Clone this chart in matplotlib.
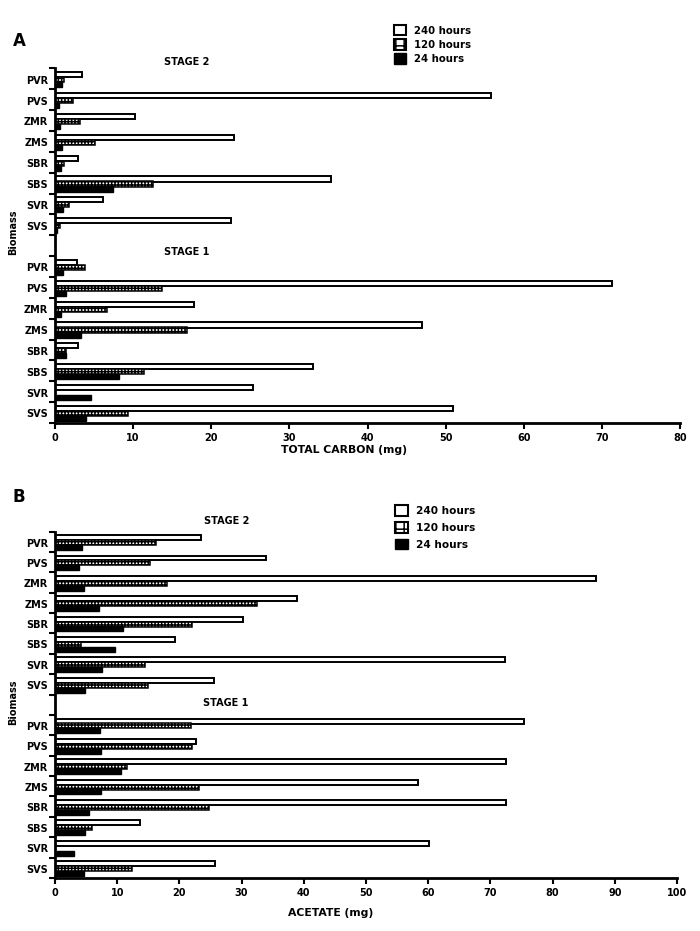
import matplotlib
matplotlib.use("Agg")
import matplotlib.pyplot as plt
from matplotlib.patches import Patch
import numpy as np

plt.rcParams['font.family'] = ['DejaVu Sans']
plt.rcParams['font.weight'] = 'bold'
plt.rcParams['hatch.linewidth'] = 1.1

categories = ["PVR", "PVS", "ZMR", "ZMS", "SBR", "SBS", "SVR", "SVS"]
series = ["240 hours", "120 hours", "24 hours"]

# Panel A: total carbon (mg)
carbon_s2_240 = [3.5, 55.8, 10.2, 22.9, 3.0, 35.3, 6.1, 22.5]
carbon_s2_120 = [1.15, 2.35, 3.15, 5.15, 1.15, 12.55, 1.85, 0.6]
carbon_s2_24 = [0.95, 0.5, 0.65, 0.95, 0.8, 7.45, 1.05, 0.2]
carbon_s1_240 = [2.8, 71.3, 17.85, 47.0, 3.0, 33.0, 25.3, 51.0]
carbon_s1_120 = [3.8, 13.75, 6.6, 16.95, 1.45, 11.4, 0.0, 9.4]
carbon_s1_24 = [1.05, 1.45, 0.8, 3.3, 1.4, 8.2, 4.55, 4.0]

# Panel B: acetate (mg)
acet_s2_240 = [23.4, 33.9, 86.9, 38.9, 30.2, 19.3, 72.3, 25.6]
acet_s2_120 = [16.3, 15.2, 18.0, 32.4, 22.1, 4.2, 14.5, 14.9]
acet_s2_24 = [4.4, 3.8, 4.6, 7.0, 10.9, 9.6, 7.5, 4.9]
acet_s1_240 = [75.4, 22.6, 72.5, 58.4, 72.5, 13.7, 60.1, 25.7]
acet_s1_120 = [21.8, 22.1, 11.5, 23.2, 24.8, 5.9, 0.0, 12.4]
acet_s1_24 = [7.2, 7.4, 10.6, 7.4, 5.5, 4.9, 3.0, 4.6]

fig = plt.figure(figsize=(7.0, 9.31), dpi=100)

def panel(rect, s2, s1, xmax, xlabel, xlabel_pos, letter_pos, letter,
          stage2_pos, stage1_pos, legend_pos, biomass_pos, leg_size, leg_space):
    ax = fig.add_axes(rect)
    n = len(categories)
    slots_s2 = np.arange(n)
    slots_s1 = np.arange(n) + n + 1
    offsets = [-0.20, 0.04, 0.28]
    h = 0.245
    styles = [dict(facecolor='white', edgecolor='black', linewidth=1.4),
              dict(facecolor='white', edgecolor='black', linewidth=1.1, hatch='+++++'),
              dict(facecolor='black', edgecolor='black', linewidth=1.0)]
    for stage_vals, slots in ((s2, slots_s2), (s1, slots_s1)):
        for k in range(3):
            ax.barh(slots + offsets[k], stage_vals[k], height=h, **styles[k])
    total = 2 * n + 1
    ax.set_ylim(total - 0.5, -0.5)
    ax.set_xlim(0, xmax)
    ax.set_xticks(np.arange(0, xmax + 1, 10))
    ax.set_yticks(np.arange(total + 1) - 0.5)
    ax.set_yticklabels([])
    ax.set_yticks(np.concatenate([slots_s2, slots_s1]) + 0.04, minor=True)
    ax.set_yticklabels(categories + categories, minor=True, fontsize=7, fontweight='bold')
    ax.tick_params(axis='y', which='minor', length=0, pad=5)
    ax.tick_params(axis='y', which='major', length=4, width=1.5)
    ax.tick_params(axis='x', which='major', length=4, width=1.5, labelsize=7, pad=3)
    for lab in ax.get_xticklabels():
        lab.set_fontweight('bold')
    for s in ('top', 'right'):
        ax.spines[s].set_visible(False)
    for s in ('left', 'bottom'):
        ax.spines[s].set_linewidth(2)
    fig.text(xlabel_pos[0] / 700, 1 - xlabel_pos[1] / 931, xlabel, ha='center', va='center',
             fontsize=7.8, fontweight='bold')
    fig.text(biomass_pos[0] / 700, 1 - biomass_pos[1] / 931, "Biomass", rotation=90,
             ha='center', va='center', fontsize=7, fontweight='bold')
    fig.text(letter_pos[0] / 700, 1 - letter_pos[1] / 931, letter, ha='left', va='center',
             fontsize=12, fontweight='bold')
    fig.text(stage2_pos[0] / 700, 1 - stage2_pos[1] / 931, "STAGE 2", ha='center', va='center',
             fontsize=7, fontweight='bold')
    fig.text(stage1_pos[0] / 700, 1 - stage1_pos[1] / 931, "STAGE 1", ha='center', va='center',
             fontsize=7, fontweight='bold')
    handles = [Patch(facecolor='white', edgecolor='black', linewidth=1.5, label=series[0]),
               Patch(facecolor='white', edgecolor='black', linewidth=1.5, hatch='++', label=series[1]),
               Patch(facecolor='black', edgecolor='black', linewidth=1.0, label=series[2])]
    fig.legend(handles=handles, loc='upper left',
               bbox_to_anchor=(legend_pos[0] / 700, 1 - legend_pos[1] / 931),
               frameon=False, prop={'weight': 'bold', 'size': leg_size},
               handlelength=1.2, handleheight=1.2, labelspacing=leg_space,
               handletextpad=0.8, borderpad=0, borderaxespad=0)
    return ax

panel([55 / 700, 1 - 423 / 931, 625 / 700, 354.5 / 931],
      [carbon_s2_240, carbon_s2_120, carbon_s2_24],
      [carbon_s1_240, carbon_s1_120, carbon_s1_24],
      80, "TOTAL CARBON (mg)", (344, 450), (13, 41), "A",
      (187, 62), (187, 252), (394, 25), (13, 232), 7.3, 0.35)

panel([55 / 700, 1 - 878 / 931, 622 / 700, 346.5 / 931],
      [acet_s2_240, acet_s2_120, acet_s2_24],
      [acet_s1_240, acet_s1_120, acet_s1_24],
      100, "ACETATE (mg)", (331, 913), (13, 497), "B",
      (227, 521), (226, 703), (395, 505), (13, 702), 7.6, 0.55)

fig.savefig("out.png", dpi=100)
